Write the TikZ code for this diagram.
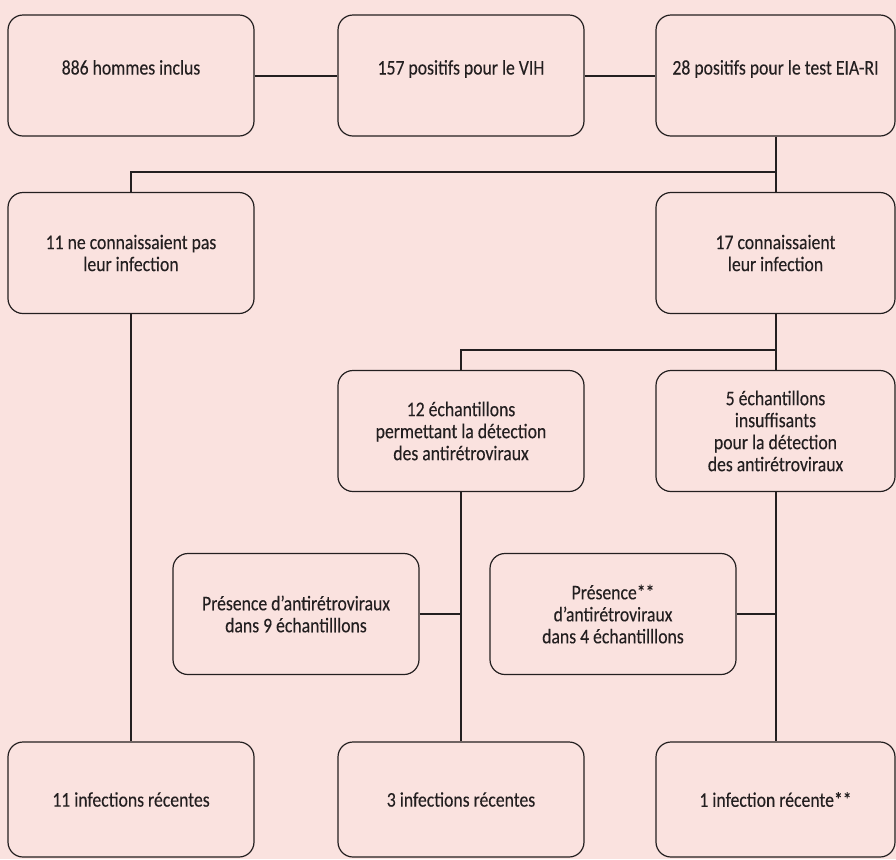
\documentclass[tikz,border=0pt]{standalone}
\usepackage{fontspec}
\setmainfont{Carlito}[FakeStretch=0.85, FakeBold=0.2]
\usepackage{tikz}
\definecolor{bgpink}{RGB}{250,226,223}
\definecolor{ink}{RGB}{35,31,32}
\tikzset{
	stepbox/.style={draw=ink, line width=0.6pt, rounded corners=7.5pt, fill=bgpink, text=ink, align=center, inner sep=2pt, minimum width=123pt, minimum height=60.5pt, font=\fontsize{10.4}{11}\selectfont},
	rightbox/.style={stepbox, minimum width=119.5pt},
	toprow/.style={text height=6pt, text depth=7pt},
	link/.style={draw=ink, line width=1pt}
}

\begin{document}
\begin{tikzpicture}[x=0.5pt, y=-0.5pt]
	\fill[bgpink] (0,0) rectangle (896,859);
	\useasboundingbox (0,0) rectangle (896,859);

	% row 1
	\node[stepbox, toprow] (1) at (131,75.5) {886 hommes inclus};
	\node[stepbox, toprow] (2) at (461,75.5) {157 positifs pour le VIH};
	\node[rightbox, toprow] (3) at (775.5,75.5) {28 positifs pour le test EIA-RI};
	% row 2
	\node[stepbox] (4) at (131,253) {11 ne connaissaient pas\\leur infection};
	\node[rightbox] (5) at (775.5,253) {17 connaissaient\\leur infection};
	% row 3
	\node[stepbox] (6) at (461,431) {12 échantillons\\permettant la détection\\des antirétroviraux};
	\node[rightbox] (7) at (775.5,431) {5 échantillons\\insuffisants\\pour la détection\\des antirétroviraux};
	% row 4
	\node[stepbox] (8) at (296,614) {Présence d’antirétroviraux\\dans 9 échantilllons};
	\node[stepbox] (9) at (613,614) {Présence**\\d’antirétroviraux\\dans 4 échantilllons};
	% row 5
	\node[stepbox, minimum height=57.5pt] (10) at (131,799.5) {11 infections récentes};
	\node[stepbox, minimum height=57.5pt] (11) at (461,799.5) {3 infections récentes};
	\node[rightbox, minimum height=57.5pt] (12) at (775.5,799.5) {1 infection récente**};

	\coordinate (j1) at (775.5,172);
	\coordinate (j2) at (775.5,350);

	% links
	\draw[link] (1) -- (2);
	\draw[link] (2) -- (3);
	\draw[link] (3) -- (5);
	\draw[link] (j1) -| (4);
	\draw[link] (5) -- (7);
	\draw[link] (j2) -| (6);
	\draw[link] (4) -- (10);
	\draw[link] (6) -- (11);
	\draw[link] (7) -- (12);
	\draw[link] (8) -- (8 -| 6);
	\draw[link] (9) -- (9 -| 7);
\end{tikzpicture}
\end{document}
